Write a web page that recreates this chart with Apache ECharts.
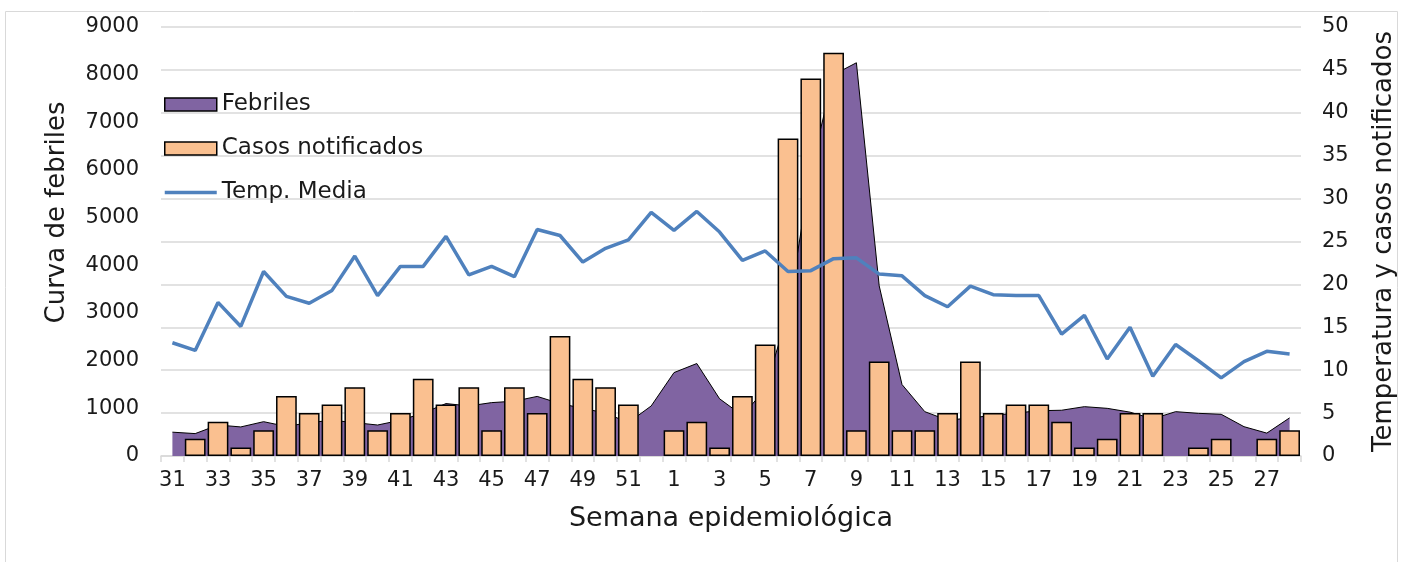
<!DOCTYPE html>
<html>
<head>
<meta charset="utf-8">
<script src="https://cdn.jsdelivr.net/npm/echarts@6/dist/echarts.min.js"></script>
<style>
  html, body { margin: 0; padding: 0; background: #fff; }
  #chart { width: 1410px; height: 562px; }
</style>
</head>
<body>
<div id="chart"></div>
<script>
// semanas epidemiológicas 31..52 y 1..28
const weeks = ['31','32','33','34','35','36','37','38','39','40','41','42','43','44','45','46','47','48','49','50','51','52',
  '1','2','3','4','5','6','7','8','9','10','11','12','13','14','15','16','17','18','19','20','21','22','23','24','25','26','27','28'];

// curva de febriles (eje izquierdo)
const febriles = [500, 470, 650, 610, 720, 620, 700, 750, 700, 650, 750, 900, 1100, 1050, 1120, 1150, 1250, 1100, 1000, 900, 700, 1050,
  1750, 1940, 1200, 850, 1400, 3000, 6000, 8000, 8250, 3570, 1500, 930, 750, 800, 850, 900, 950, 960, 1035, 1000, 920, 780, 930, 895, 875, 615, 480, 800];

// casos notificados (eje derecho)
const casos = [0, 2, 4, 1, 3, 7, 5, 6, 8, 3, 5, 9, 6, 8, 3, 8, 5, 14, 9, 8, 6, 0,
  3, 4, 1, 7, 13, 37, 44, 47, 3, 11, 3, 3, 5, 11, 5, 6, 6, 4, 1, 2, 5, 5, 0, 1, 2, 0, 2, 3];

// temperatura media (eje derecho)
const tempMedia = [13.2, 12.3, 17.9, 15.1, 21.5, 18.6, 17.8, 19.3, 23.3, 18.7, 22.1, 22.1, 25.6, 21.1, 22.1, 20.9, 26.4, 25.7, 22.6, 24.2, 25.2, 28.4,
  26.3, 28.5, 26.1, 22.8, 23.9, 21.5, 21.6, 23.0, 23.1, 21.2, 21.0, 18.7, 17.4, 19.8, 18.8, 18.7, 18.7, 14.2, 16.4, 11.3, 15.0, 9.3, 13.0, 11.1, 9.1, 11.0, 12.2, 11.9];

const font = 'DejaVu Sans';
const textColor = '#1a1a1a';
const gridColor = '#d9d9d9';

const chart = echarts.init(document.getElementById('chart'));

chart.setOption({
  animation: false,
  textStyle: { fontFamily: font, color: textColor },
  graphic: [{
    type: 'rect',
    silent: true,
    z: -10,
    shape: { x: 5.5, y: 11.5, width: 1392, height: 600 },
    style: { fill: 'none', stroke: gridColor, lineWidth: 1 }
  }],
  grid: { left: 161, right: 109, top: 27, bottom: 106 },
  legend: {
    orient: 'vertical',
    left: 163,
    top: 93,
    padding: 0,
    itemWidth: 52,
    itemHeight: 13,
    itemGap: 21,
    textStyle: { fontFamily: font, fontSize: 23, color: textColor },
    data: [
      { name: 'Febriles', icon: 'rect', itemStyle: { color: '#8064A2', borderColor: '#000', borderWidth: 1.5 } },
      { name: 'Casos notificados', icon: 'rect', itemStyle: { color: '#FAC090', borderColor: '#000', borderWidth: 1.5 } },
      { name: 'Temp. Media', itemStyle: { opacity: 0 }, lineStyle: { color: '#4F81BD', width: 3.5 } }
    ]
  },
  xAxis: {
    type: 'category',
    data: weeks,
    boundaryGap: true,
    axisLine: { lineStyle: { color: gridColor, width: 1.5 } },
    axisTick: { show: true, interval: 0, length: 6, lineStyle: { color: gridColor, width: 1.5 } },
    axisLabel: { interval: 1, fontSize: 21, color: textColor, margin: 14 },
    name: 'Semana epidemiológica',
    nameLocation: 'middle',
    nameGap: 49,
    nameTextStyle: { fontSize: 27, color: textColor }
  },
  yAxis: [{
    type: 'value',
    min: 0,
    max: 9000,
    interval: 1000,
    splitLine: { show: false },
    axisLine: { show: false },
    axisTick: { show: false },
    axisLabel: { fontSize: 21, color: textColor, margin: 22, formatter: v => String(v) },
    name: 'Curva de febriles',
    nameLocation: 'middle',
    nameRotate: 90,
    nameGap: 91,
    nameTextStyle: { fontSize: 26, color: textColor, padding: [0, 0, 0, 58] }
  }, {
    type: 'value',
    position: 'right',
    min: 0,
    max: 50,
    interval: 5,
    splitLine: { show: true, lineStyle: { color: gridColor, width: 1.5 } },
    axisLine: { show: false },
    axisTick: { show: false },
    axisLabel: { fontSize: 21, color: textColor, margin: 21 },
    name: 'Temperatura y casos notificados',
    nameLocation: 'middle',
    nameRotate: 90,
    nameGap: 70,
    nameTextStyle: { fontSize: 26, color: textColor }
  }],
  series: [{
    name: 'Febriles',
    type: 'line',
    yAxisIndex: 0,
    data: febriles,
    symbol: 'none',
    z: 1,
    itemStyle: { color: '#8064A2' },
    lineStyle: { color: '#000', width: 1 },
    areaStyle: { color: '#8064A2', opacity: 1 }
  }, {
    name: 'Casos notificados',
    type: 'bar',
    yAxisIndex: 1,
    // weeks with no cases draw no bar
    data: casos.map(v => (v === 0 ? '-' : v)),
    barCategoryGap: '9%',
    z: 2,
    itemStyle: { color: '#FAC090', borderColor: '#000', borderWidth: 1.5 }
  }, {
    name: 'Temp. Media',
    type: 'line',
    yAxisIndex: 1,
    data: tempMedia,
    symbol: 'none',
    z: 3,
    itemStyle: { color: '#4F81BD' },
    lineStyle: { color: '#4F81BD', width: 3.5 }
  }]
});

window.addEventListener('resize', () => chart.resize());
</script>
</body>
</html>
